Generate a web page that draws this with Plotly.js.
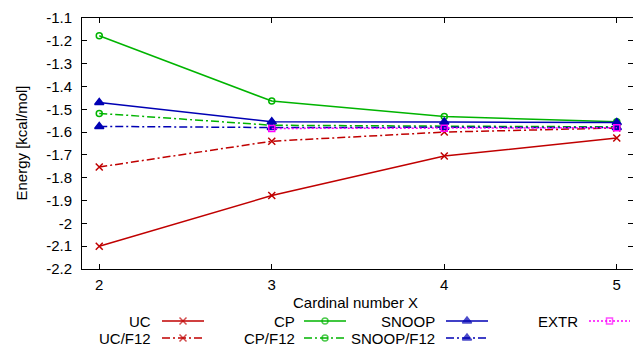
<!DOCTYPE html>
<html><head><meta charset="utf-8">
<script src="https://cdn.plot.ly/plotly-3.0.1.min.js"></script>
<style>html,body{margin:0;padding:0;background:#fff}</style>
</head><body>
<div id="chart" style="width:633px;height:346px"></div>
<script>
// Data
const cardinal = [2, 3, 4, 5];
const extrX = [3, 4, 5];
const UC = [-2.100, -1.878, -1.705, -1.626];
const UC_F12 = [-1.753, -1.640, -1.600, -1.582];
const CP = [-1.178, -1.464, -1.532, -1.555];
const CP_F12 = [-1.518, -1.570, -1.574, -1.577];
const SNOOP = [-1.470, -1.555, -1.556, -1.558];
const SNOOP_F12 = [-1.575, -1.580, -1.579, -1.580];
const EXTR = [-1.584, -1.583, -1.581];
const yTicks = [-1.1,-1.2,-1.3,-1.4,-1.5,-1.6,-1.7,-1.8,-1.9,-2.0,-2.1,-2.2];
const yTickText = ['-1.1','-1.2','-1.3','-1.4','-1.5','-1.6','-1.7','-1.8','-1.9','-2','-2.1','-2.2'];

const RED = '#c00000', GREEN = '#00b400', BLUE = '#0000b4', MAG = '#ff00ff';
const DASHDOT = '8px,3px,2px,3px';
const DOT = '2px,2px';
const FONT = 'Liberation Sans, Arial, sans-serif';

const series = [
  {name:'UC', x:cardinal, y:UC, color:RED, dash:'solid', sym:'x-thin-open', size:7, col:0, row:0},
  {name:'UC/F12', x:cardinal, y:UC_F12, color:RED, dash:DASHDOT, sym:'x-thin-open', size:7, col:0, row:1},
  {name:'CP', x:cardinal, y:CP, color:GREEN, dash:'solid', sym:'circle-open', size:6, col:1, row:0},
  {name:'CP/F12', x:cardinal, y:CP_F12, color:GREEN, dash:DASHDOT, sym:'circle-open', size:6, col:1, row:1},
  {name:'SNOOP', x:cardinal, y:SNOOP, color:BLUE, dash:'solid', sym:'triangle-up', size:8, col:2, row:0},
  {name:'SNOOP/F12', x:cardinal, y:SNOOP_F12, color:BLUE, dash:DASHDOT, sym:'triangle-up', size:8, col:2, row:1},
  {name:'EXTR', x:extrX, y:EXTR, color:MAG, dash:DOT, sym:'square-open', size:6, col:3, row:0}
];

const W = 633, H = 346;
const traces = [];
series.forEach(s => {
  traces.push({
    x: s.x, y: s.y, type:'scatter', mode:'lines+markers', name:s.name,
    line:{color:s.color, width:1.5, dash:s.dash},
    marker:{symbol:s.sym, size:s.size, color:s.color, line:{color:s.color, width:1.5}},
    xaxis:'x', yaxis:'y', showlegend:false, cliponaxis:false
  });
});

// gnuplot-style key (text right, sample after), positioned in pixel space
const colTextRight = [153, 297, 437, 580];
const colSample = [[162,204],[304,346],[446,488],[589,630]];
const rowY = [321, 338];
const annotations = [];
series.forEach(s => {
  const [a,b] = colSample[s.col];
  const yy = rowY[s.row];
  traces.push({
    x:[a,(a+b)/2,b], y:[yy,yy,yy], type:'scatter', mode:'lines+markers',
    line:{color:s.color, width:1.5, dash:s.dash},
    marker:{symbol:s.sym, size:[0,s.size,0], color:s.color, line:{color:s.color, width:[0,1.5,0]}},
    xaxis:'x2', yaxis:'y2', showlegend:false, hoverinfo:'skip', cliponaxis:false
  });
  annotations.push({
    text:s.name, xref:'paper', yref:'paper', x:colTextRight[s.col]/W, y:1-yy/H,
    xanchor:'right', yanchor:'middle', showarrow:false,
    font:{family:FONT, size:15, color:'#000'}
  });
});
annotations.push({
  text:'Cardinal number X', xref:'paper', yref:'paper', x:355/W, y:1-302/H,
  xanchor:'center', yanchor:'middle', showarrow:false,
  font:{family:FONT, size:15, color:'#000'}
});
annotations.push({
  text:'Energy [kcal/mol]', xref:'paper', yref:'paper', x:21/W, y:1-143.5/H,
  xanchor:'center', yanchor:'middle', showarrow:false, textangle:-90,
  font:{family:FONT, size:15, color:'#000'}
});

const layout = {
  width:W, height:H,
  margin:{l:0, r:0, t:0, b:0},
  paper_bgcolor:'#fff', plot_bgcolor:'rgba(0,0,0,0)',
  font:{family:FONT, size:15, color:'#000'},
  showlegend:false,
  xaxis:{
    domain:[82/W, 1], range:[1.9, 5.094], tickvals:cardinal, ticktext:['2','3','4','5'],
    ticks:'inside', ticklen:5, tickcolor:'#000', tickwidth:1,
    showline:true, linecolor:'#000', linewidth:1, mirror:'ticks',
    showgrid:false, zeroline:false, ticklabelstandoff:2
  },
  yaxis:{
    domain:[77/H, 328/H], range:[-2.2, -1.1], tickvals:yTicks, ticktext:yTickText,
    ticks:'inside', ticklen:5, tickcolor:'#000', tickwidth:1,
    showline:true, linecolor:'#000', linewidth:1, mirror:'ticks',
    showgrid:false, zeroline:false, ticklabelstandoff:6
  },
  xaxis2:{domain:[0,1], range:[0,W], visible:false, anchor:'y2', fixedrange:true},
  yaxis2:{domain:[0,1], range:[H,0], visible:false, anchor:'x2', fixedrange:true},
  annotations:annotations
};

Plotly.newPlot('chart', traces, layout, {displayModeBar:false, staticPlot:true});
</script>
</body></html>
